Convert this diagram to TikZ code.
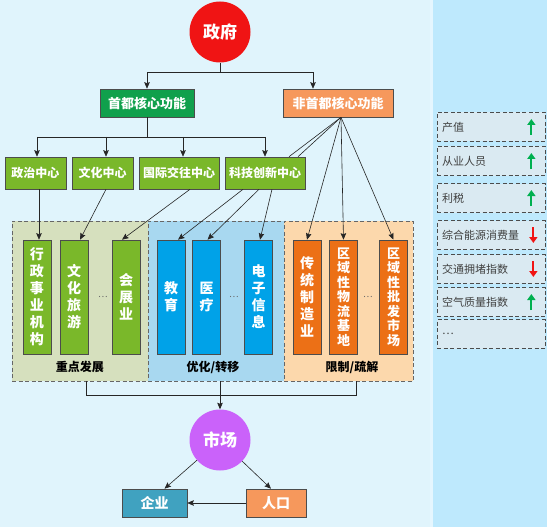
\documentclass[tikz,border=0pt]{standalone}
\usepackage{fontspec}
\setmainfont{Noto Sans CJK SC}
\usepackage{tikz}
\usetikzlibrary{arrows.meta,positioning,calc}
\definecolor{bgleft}{RGB}{224,244,252}
\definecolor{bgright}{RGB}{190,233,253}
\definecolor{govred}{RGB}{240,20,20}
\definecolor{capgreen}{RGB}{16,160,76}
\definecolor{noncaporange}{RGB}{246,152,92}
\definecolor{ctrgreen}{RGB}{122,184,42}
\definecolor{zoneone}{RGB}{214,224,190}
\definecolor{zonetwo}{RGB}{168,216,240}
\definecolor{zonethree}{RGB}{252,216,172}
\definecolor{optblue}{RGB}{0,162,232}
\definecolor{limorange}{RGB}{236,112,22}
\definecolor{mktpurple}{RGB}{202,98,250}
\definecolor{firmteal}{RGB}{64,162,192}
\definecolor{legfill}{RGB}{218,234,242}
\definecolor{upgreen}{RGB}{0,176,80}
\definecolor{downred}{RGB}{240,20,20}
\tikzset{
  arr/.style={-{Stealth[length=6.5pt,width=5.5pt,inset=1pt]}, black!85, line width=0.6pt},
  ln/.style={black!85, line width=0.6pt},
  circ/.style={circle, minimum size=61pt, inner sep=0pt, text=white,
               font=\fontsize{17}{20}\selectfont\bfseries},
  topbox/.style={draw=black!70, line width=0.6pt, minimum height=28pt, inner sep=0pt,
                 text=white, font=\fontsize{13}{15}\selectfont\bfseries},
  ctr/.style={draw=black!70, line width=0.6pt, fill=ctrgreen, minimum height=32pt,
              inner sep=0pt, text=white, font=\fontsize{12}{14}\selectfont\bfseries},
  zone/.style={draw=black!60, dash pattern=on 4pt off 2.5pt, line width=0.8pt,
               minimum height=160pt, inner sep=0pt},
  vbox/.style={draw=black!70, line width=0.6pt, minimum width=28pt, minimum height=114pt,
               inner sep=0pt, text=white, align=center,
               font=\fontsize{14}{17}\selectfont\bfseries},
  vboxlong/.style={vbox, font=\fontsize{13}{14.5}\selectfont\bfseries},
  zlab/.style={font=\fontsize{12}{14}\selectfont\bfseries},
  dots/.style={font=\fontsize{9}{10}\selectfont, text=black!60},
}
\tikzset{
  legbox/.style={draw=black!70, dash pattern=on 4pt off 2.5pt, line width=0.7pt,
                 fill=legfill, minimum width=108pt, minimum height=29pt,
                 text width=98pt, align=left, inner xsep=5pt,
                 font=\fontsize{11}{13}\selectfont, text=black!75},
  upar/.style={-{Triangle[length=6pt,width=8pt]}, line width=2pt, upgreen},
  dnar/.style={-{Triangle[length=6pt,width=8pt]}, line width=2pt, downred},
}
\begin{document}
\begin{tikzpicture}[x=1pt,y=-1pt]
  % background
  \fill[bgleft] (0,0) rectangle (547,527);
  \fill[bgright] (433,0) rectangle (547,527);
  \fill[white!60!bgright] (430,0) rectangle (433,527);

  % top of the tree
  \node[circ, fill=govred] (gov) at (220,32) {政府};
  \node[topbox, fill=capgreen, minimum width=94pt] (cap) at (147,103) {首都核心功能};
  \node[topbox, fill=noncaporange, minimum width=110pt] (noncap) at (338,103) {非首都核心功能};
  \coordinate (fork1) at (220,72);
  \coordinate (nctop) at ($(noncap.north)+(-25,0)$);
  \draw[ln] (gov.south) -- (fork1);
  \draw[arr] (fork1) -| (cap.north);
  \draw[arr] (fork1) -| (nctop);

  % four centres
  \node[ctr, minimum width=61pt] (polctr) at (35.5,173) {政治中心};
  \node[ctr, minimum width=61pt] (culctr) at (102.5,173) {文化中心};
  \node[ctr, minimum width=80pt] (intctr) at (179,173) {国际交往中心};
  \node[ctr, minimum width=80pt] (techctr) at (265,173) {科技创新中心};
  \coordinate (fork2) at (147,137);
  \coordinate (poltop) at ($(polctr.north)+(1.5,0)$);
  \coordinate (cultop) at ($(culctr.north)+(3.5,0)$);
  \coordinate (inttop) at ($(intctr.north)+(4,0)$);
  \draw[ln] (cap.south) -- (fork2);
  \draw[ln] (poltop |- fork2) -- (techctr.north |- fork2);
  \foreach \tgt in {poltop,cultop,inttop,techctr.north}
    \draw[arr] (\tgt |- fork2) -- (\tgt);

  % three zones
  \node[zone, fill=zoneone, minimum width=136pt] (zdev) at (80,301) {};
  \node[zone, fill=zonetwo, minimum width=136pt] (zopt) at (216,301) {};
  \node[zone, fill=zonethree, minimum width=129pt] (zlim) at (348.5,301) {};
  \node[zlab] (ldev) at (80,367) {重点发展};
  \node[zlab] (lopt) at (213,367) {优化/转移};
  \node[zlab] (llim) at (352,367) {限制/疏解};

  % industries
  \node[vbox, fill=ctrgreen] (admin) at (37,297) {行\\政\\事\\业\\机\\构};
  \node[vbox, fill=ctrgreen] (tour) at (74,297) {文\\化\\旅\\游};
  \node[dots] (ddev) at (103,297) {…};
  \node[vbox, fill=ctrgreen] (expo) at (126,297) {会\\展\\业};
  \node[vbox, fill=optblue] (edu) at (171,297) {教\\育};
  \node[vbox, fill=optblue] (med) at (206.5,297) {医\\疗};
  \node[dots] (dopt) at (234,297) {…};
  \node[vbox, fill=optblue] (elec) at (258.5,297) {电\\子\\信\\息};
  \node[vbox, fill=limorange] (manu) at (307,297) {传\\统\\制\\造\\业};
  \node[vboxlong, fill=limorange] (logi) at (343.5,297) {区\\域\\性\\物\\流\\基\\地};
  \node[dots] (dlim) at (368,297) {…};
  \node[vboxlong, fill=limorange] (whol) at (393.5,297) {区\\域\\性\\批\\发\\市\\场};

  % centres to industries
  \draw[arr] ($(polctr.south)+(3.5,0)$) -- ($(admin.north)+(2,0)$);
  \draw[arr] ($(culctr.south)+(3.5,0)$) -- ($(tour.north)+(6,0)$);
  \draw[arr] ($(intctr.south)+(11,0)$) -- ($(expo.north)+(-4,0)$);
  \draw[arr] ($(techctr.south)+(-22,0)$) -- ($(edu.north)+(7,0)$);
  \draw[arr] ($(techctr.south)+(-6,0)$) -- ($(med.north)+(1,0)$);
  \draw[arr] ($(techctr.south)+(7,0)$) -- ($(elec.north)+(1.5,0)$);

  % non-capital functions
  \coordinate (ncfoot) at ($(noncap.south)+(3,0)$);
  \draw[ln] (ncfoot) -- ($(techctr.north)+(24,0)$);
  \draw[ln] (ncfoot) -- ($(techctr.north)+(33,0)$);
  \draw[arr] (ncfoot) -- (manu.north);
  \draw[arr] (ncfoot) -- (logi.north);
  \draw[arr] (ncfoot) -- (whol.north);

  % market
  \node[circ, fill=mktpurple] (mkt) at (220,440) {市场};
  \node[topbox, fill=firmteal, minimum width=65pt,
        font=\fontsize{14}{16}\selectfont\bfseries] (firm) at (154.5,503) {企业};
  \node[topbox, fill=noncaporange, minimum width=60pt,
        font=\fontsize{14}{16}\selectfont\bfseries] (pop) at (276,503) {人口};
  \coordinate (fork3) at (86,395);
  \coordinate (fork4) at (356,395);
  \draw[ln] (fork3 |- zdev.south) -- (fork3) -- (fork4) -- (fork4 |- zlim.south);
  \draw[arr] (mkt.north |- zopt.south) -- (mkt.north);
  \draw[arr] (mkt) -- ($(firm.north)+(10,0)$);
  \draw[arr] (mkt) -- ($(pop.north)+(-5,0)$);
  \draw[arr] (pop.west) -- (firm.east);

  % legend
  \node[legbox] (lgval) at (491,127) {产值};
  \node[legbox] (lgjob) at (491,161) {从业人员};
  \node[legbox] (lgtax) at (491,198) {利税};
  \node[legbox] (lgeng) at (491,235) {综合能源消费量};
  \node[legbox] (lgtrf) at (491,269) {交通拥堵指数};
  \node[legbox] (lgair) at (491,302) {空气质量指数};
  \node[legbox] (lgetc) at (491,334) {…};
  \foreach \lg in {lgval,lgjob,lgtax,lgair}
    \draw[upar] ($(\lg.east)+(-14,8)$) -- ($(\lg.east)+(-14,-8)$);
  \foreach \lg in {lgeng,lgtrf}
    \draw[dnar] ($(\lg.east)+(-12,-8)$) -- ($(\lg.east)+(-12,8)$);
\end{tikzpicture}
\end{document}
